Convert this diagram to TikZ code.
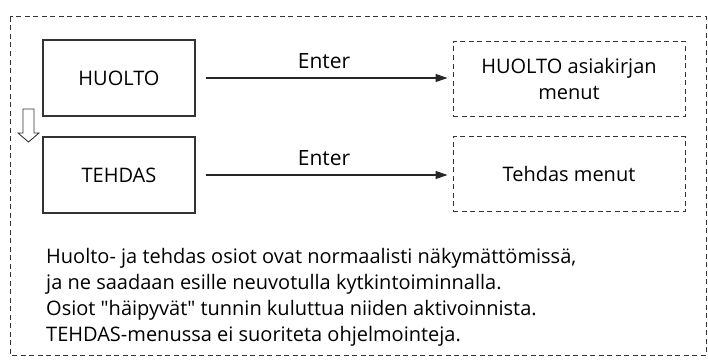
\documentclass[tikz,border=0pt]{standalone}
\usepackage{fontspec}
\setmainfont{Open Sans}
\usepackage{xcolor}
\usetikzlibrary{arrows.meta}

\tikzset{
  menubox/.style={draw=black!80, line width=1.1pt, minimum width=152pt, minimum height=76pt, font=\fontsize{20}{24}\selectfont},
  hiddenbox/.style={draw=black!80, line width=1pt, dash pattern=on 5pt off 3.5pt, minimum width=232pt, minimum height=75pt, align=center, font=\fontsize{20}{25}\selectfont},
  enterline/.style={draw=black!85, line width=1.1pt, -{Triangle[length=12pt,width=8pt]}, shorten <=10pt, shorten >=5pt}
}

\begin{document}
\begin{tikzpicture}[x=1pt,y=-1pt]
\useasboundingbox (0,0) rectangle (708,361);
% outer frame
\draw[black!80, line width=1pt, dash pattern=on 5pt off 3.5pt] (10,17) rectangle (706,355);
% the two menus
\node[menubox] (huolto) at (119,78) {HUOLTO};
\node[menubox] (tehdas) at (119,175) {TEHDAS};
\node[hiddenbox] (huoltomenu) at (569,79) {HUOLTO asiakirjan\\menut};
\node[hiddenbox] (tehdasmenu) at (569,174) {Tehdas menut};
\draw[enterline] (huolto.east) -- node[above=5pt, font=\fontsize{21}{24}\selectfont] (enter1) {Enter} (huolto.east -| huoltomenu.west);
\draw[enterline] (tehdas.east) -- node[above=5pt, font=\fontsize{21}{24}\selectfont] (enter2) {Enter} (tehdas.east -| tehdasmenu.west);
% hollow arrow down
\draw[black!80, line width=0.9pt, fill=white] (23,109) -- (34,109) -- (34,133) -- (39,133) -- (28.5,142) -- (18,133) -- (23,133) -- cycle;
% note
\node[anchor=north west, align=left, inner sep=0pt, font=\fontsize{20}{26}\selectfont] (note) at (46,248)
  {Huolto- ja tehdas osiot ovat normaalisti näkymättömissä,\\
   ja ne saadaan esille neuvotulla kytkintoiminnalla.\\
   Osiot \textquotedbl häipyvät\textquotedbl{} tunnin kuluttua niiden aktivoinnista.\\
   TEHDAS-menussa ei suoriteta ohjelmointeja.};
\end{tikzpicture}
\end{document}
